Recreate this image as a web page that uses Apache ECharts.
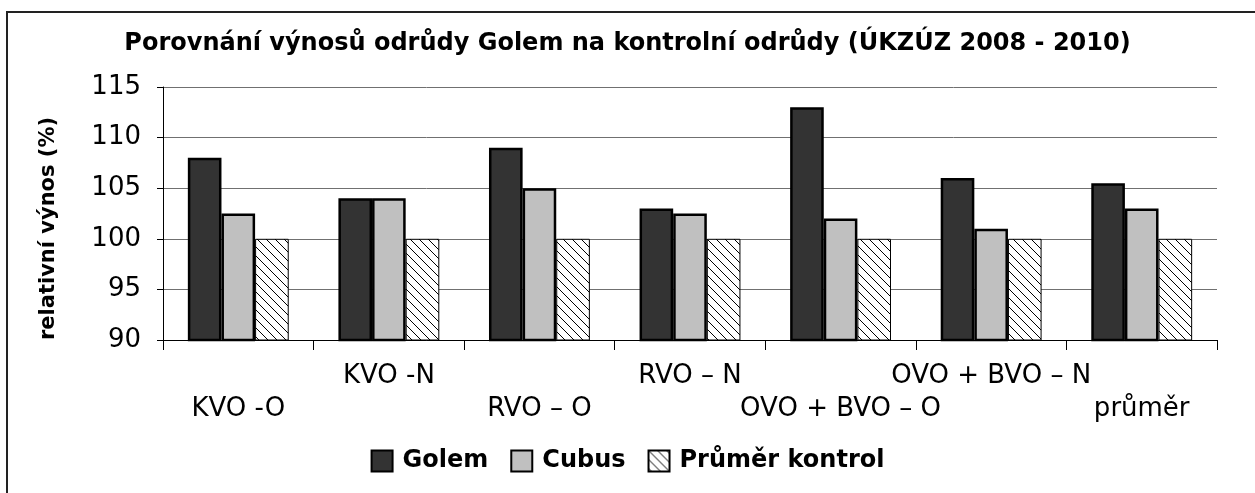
<!DOCTYPE html>
<html>
<head>
<meta charset="utf-8">
<script src="https://cdn.jsdelivr.net/npm/echarts@6/dist/echarts.min.js"></script>
<style>
  html, body { margin: 0; padding: 0; background: #fff; }
  #chart { width: 1255px; height: 493px; }
</style>
</head>
<body>
<div id="chart"></div>
<script>
var categories = ['KVO -O', 'KVO -N', 'RVO – O', 'RVO – N', 'OVO + BVO – O', 'OVO + BVO – N', 'průměr'];
var golem = [108, 104, 109, 103, 113, 106, 105.5];
var cubus = [102.5, 104, 105, 102.5, 102, 101, 103];
var kontrol = [100, 100, 100, 100, 100, 100, 100];

// diagonal hatch pattern for the control bars
var hatch = document.createElement('canvas');
hatch.width = 9;
hatch.height = 9;
var ctx = hatch.getContext('2d');
ctx.fillStyle = '#fff';
ctx.fillRect(0, 0, 9, 9);
ctx.strokeStyle = '#000';
ctx.lineWidth = 1;
ctx.beginPath();
ctx.moveTo(-1, -1); ctx.lineTo(10, 10);
ctx.moveTo(-1, 8); ctx.lineTo(1, 10);
ctx.moveTo(8, -1); ctx.lineTo(10, 1);
ctx.stroke();

var myChart = echarts.init(document.getElementById('chart'));

var option = {
  animation: false,
  backgroundColor: '#fff',
  title: {
    text: 'Porovnání výnosů odrůdy Golem na kontrolní odrůdy (ÚKZÚZ 2008 - 2010)',
    left: 'center',
    top: 27,
    textStyle: { fontFamily: 'DejaVu Sans', fontWeight: 'bold', fontSize: 24, color: '#000' }
  },
  graphic: [{
    type: 'rect',
    shape: { x: 7, y: 12, width: 1300, height: 600 },
    style: { fill: null, stroke: '#222', lineWidth: 2 },
    silent: true
  }],
  legend: {
    top: 444,
    left: 'center',
    icon: 'rect',
    itemWidth: 21,
    itemHeight: 21,
    itemGap: 22,
    textStyle: { fontFamily: 'DejaVu Sans', fontWeight: 'bold', fontSize: 24, color: '#000', padding: [0, 0, 0, 5] },
    data: ['Golem', 'Cubus', 'Průměr kontrol']
  },
  grid: { left: 163, right: 38, top: 87, height: 253 },
  xAxis: {
    type: 'category',
    data: categories,
    axisLine: { lineStyle: { color: '#000', width: 1 } },
    axisTick: { show: true, length: 10, lineStyle: { color: '#000' } },
    axisLabel: {
      interval: 0,
      margin: 20,
      fontFamily: 'DejaVu Sans',
      fontSize: 26,
      color: '#000',
      lineHeight: 33,
      formatter: function (v, i) { return i % 2 ? v + '\n ' : ' \n' + v; }
    }
  },
  yAxis: {
    type: 'value',
    min: 90,
    max: 115,
    interval: 5,
    name: 'relativní výnos (%)',
    nameLocation: 'middle',
    nameGap: 104,
    nameTextStyle: { fontFamily: 'DejaVu Sans', fontWeight: 'bold', fontSize: 21, color: '#000', padding: [0, 30, 0, 0] },
    axisLine: { show: true, lineStyle: { color: '#000', width: 1 } },
    axisTick: { show: true, length: 6, lineStyle: { color: '#000' } },
    axisLabel: { margin: 22, fontFamily: 'DejaVu Sans', fontSize: 26, color: '#000' },
    splitLine: { lineStyle: { color: '#707070', width: 1 } }
  },
  series: [
    {
      name: 'Golem', type: 'bar', data: golem,
      barGap: '0%', barCategoryGap: '33%',
      itemStyle: { color: '#333333', borderColor: '#000', borderWidth: 2.5 }
    },
    {
      name: 'Cubus', type: 'bar', data: cubus,
      itemStyle: { color: '#c0c0c0', borderColor: '#000', borderWidth: 2.5 }
    },
    {
      name: 'Průměr kontrol', type: 'bar', data: kontrol,
      itemStyle: { color: { image: hatch, repeat: 'repeat' }, borderColor: '#000', borderWidth: 1 }
    }
  ]
};

myChart.setOption(option);
window.addEventListener('resize', function () {
  myChart.resize();
});
</script>
</body>
</html>
